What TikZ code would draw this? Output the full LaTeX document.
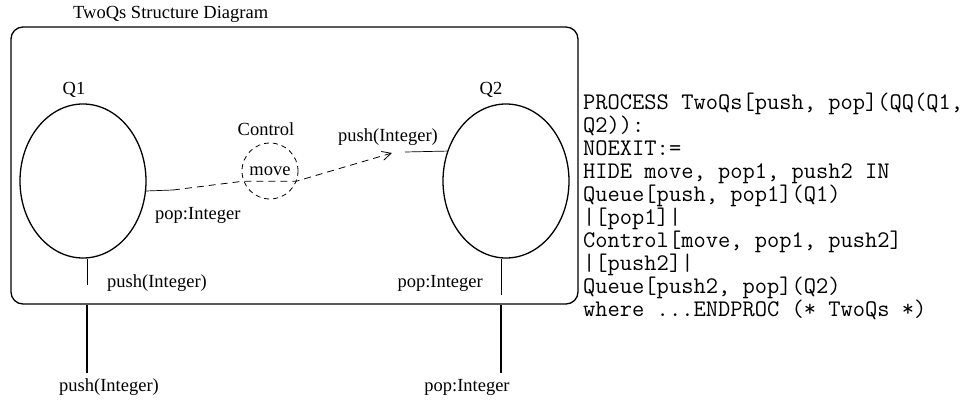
\documentclass[tikz,border=0pt]{standalone}
\usepackage{fontspec}
\setmainfont{Liberation Serif}
\usetikzlibrary{shapes.geometric,arrows.meta}
\begin{document}
\begin{tikzpicture}[x=1pt,y=-1pt,
  lbl/.style={font=\fontsize{18.5}{20}\selectfont, inner sep=0pt},
  code/.style={font=\fontsize{23.8}{23}\selectfont\ttfamily, inner sep=0pt, anchor=base west},
  queue/.style={draw, ellipse, line width=1.3pt, minimum width=126pt, minimum height=154pt, inner sep=0pt},
  frame/.style={draw, rounded corners=12pt, line width=1.3pt, minimum width=567pt, minimum height=277pt, inner sep=0pt},
  thinline/.style={line width=0.7pt},
  portline/.style={line width=1.3pt},
  dashline/.style={line width=0.8pt, dash pattern=on 7pt off 5pt},
  ctrlcirc/.style={draw, circle, line width=0.8pt, dash pattern=on 5pt off 4pt, minimum size=56pt, inner sep=0pt}
]
\useasboundingbox (0,0) rectangle (980,401);

% title and frame
\node[lbl, anchor=west] (title) at (73,14) {TwoQs Structure Diagram};
\node[frame] (box) at (294.5,165.5) {};

% queues
\node[queue] (q1) at (83,181) {};
\node[queue] (q2) at (506,181) {};
\node[lbl] (q1l) at (74,90) {Q1};
\node[lbl] (q2l) at (491,90) {Q2};

% control
\node[ctrlcirc, font=\fontsize{18.5}{20}\selectfont] (ctrl) at (270,171) {move};
\node[lbl] (ctrll) at (266,129) {Control};

% internal connection
\coordinate (p1) at (173,190);
\coordinate (tip) at (392,153);
\coordinate (p2) at (405,152);
\draw[thinline] (q1.-9) -- (p1);
\draw[dashline, -{Straight Barb[length=9pt,width=9pt,line width=0.8pt]}] (p1) -- (ctrl.201) -- (ctrl.339) -- (tip);
\draw[thinline] (p2) -- (q2.153);
\node[lbl, anchor=west] (popi) at (155,215) {pop:Integer};
\node[lbl, anchor=west] (pushi) at (338,137) {push(Integer)};

% ports of Q1
\coordinate (a1) at (87,285);
\coordinate (b1) at (87,373);
\draw[thinline] (a1 |- q1.south) -- (a1);
\draw[portline] (b1 |- box.south) -- (b1);
\node[lbl, anchor=west] (push1in) at (107,283) {push(Integer)};
\node[lbl] (push1out) at (109,387) {push(Integer)};

% ports of Q2
\coordinate (a2) at (501,295);
\coordinate (b2) at (501,373);
\draw[thinline] (a2 |- q2.south) -- (a2);
\draw[portline] (b2 |- box.south) -- (b2);
\node[lbl, anchor=east] (pop2in) at (483,283) {pop:Integer};
\node[lbl] (pop2out) at (467,387) {pop:Integer};

% process text
\node[code] (c0) at (583,110) {PROCESS TwoQs[push, pop](QQ(Q1,};
\node[code] (c1) at (583,132.9) {Q2)):};
\node[code] (c2) at (583,155.8) {NOEXIT:=};
\node[code] (c3) at (583,178.7) {HIDE move, pop1, push2 IN};
\node[code] (c4) at (583,201.6) {Queue[push, pop1](Q1)};
\node[code] (c5) at (583,224.5) {|[pop1]|};
\node[code] (c6) at (583,247.4) {Control[move, pop1, push2]};
\node[code] (c7) at (583,270.3) {|[push2]|};
\node[code] (c8) at (583,293.2) {Queue[push2, pop](Q2)};
\node[code] (c9) at (583,316.1) {where ...ENDPROC (* TwoQs *)};
\end{tikzpicture}
\end{document}
